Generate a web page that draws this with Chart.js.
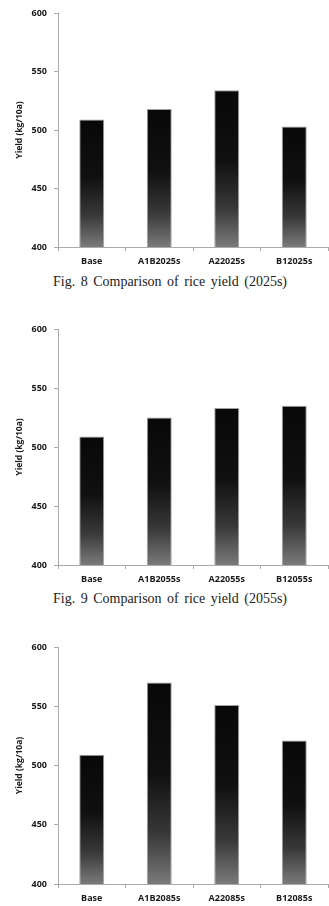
<!DOCTYPE html>
<html lang="en">
<head>
  <meta charset="UTF-8">
  <title>Rice yield comparison</title>
  <script src="https://cdn.jsdelivr.net/npm/chart.js"></script>
  <style>
    html, body { margin: 0; padding: 0; background: #fff; overflow: hidden; }
    body { width: 329px; height: 906px; position: relative; }
    canvas { position: absolute; left: 0; }
    .cap {
      position: absolute; left: 53px; width: 250px;
      font-family: "Liberation Serif", serif; font-size: 14px; color: #222;
      word-spacing: 2px; white-space: nowrap; line-height: 16px;
    }
  </style>
</head>
<body>
  <canvas id="c1"></canvas>
  <div class="cap" id="cap1"></div>
  <canvas id="c2"></canvas>
  <div class="cap" id="cap2"></div>
  <canvas id="c3"></canvas>
  <script>
    // data
    const categories2025 = ['Base', 'A1B2025s', 'A22025s', 'B12025s'];
    const yield2025 = [509, 518, 534, 503];
    const categories2055 = ['Base', 'A1B2055s', 'A22055s', 'B12055s'];
    const yield2055 = [509, 525, 533, 535];
    const categories2085 = ['Base', 'A1B2085s', 'A22085s', 'B12085s'];
    const yield2085 = [509, 570, 551, 521];
    const captions = ['Fig. 8 Comparison of rice yield (2025s)', 'Fig. 9 Comparison of rice yield (2055s)'];
    const yMin = 400, yMax = 600, yStep = 50;
    const yTitle = 'Yield (kg/10a)';

    // bar fill: dark on top, fading to grey at the bottom of each bar
    function barFill(ctx) {
      const chart = ctx.chart;
      const y = chart.scales && chart.scales.y;
      if (!chart.chartArea || !y) return '#111';
      const top = y.getPixelForValue(ctx.raw);
      const bottom = y.getPixelForValue(yMin);
      const g = chart.ctx.createLinearGradient(0, top, 0, bottom);
      g.addColorStop(0, '#080808');
      g.addColorStop(0.45, '#101010');
      g.addColorStop(0.75, '#383838');
      g.addColorStop(1, '#7a7a7a');
      return g;
    }

    function makeChart(id, top, areaH, labels, values) {
      const el = document.getElementById(id);
      const h = 13 + areaH + 24;
      el.width = 329;
      el.height = h;
      el.style.top = top + 'px';
      const tickFont = { family: 'Open Sans', size: 9, weight: 'bold' };
      new Chart(el, {
        type: 'bar',
        data: {
          labels: labels,
          datasets: [{
            data: values,
            backgroundColor: barFill,
            borderColor: '#a0a0a0',
            borderWidth: 1,
            borderSkipped: false,
            categoryPercentage: 1,
            barPercentage: 0.37
          }]
        },
        options: {
          responsive: false,
          animation: false,
          layout: { padding: { top: 13, right: 1, left: 0, bottom: 0 } },
          plugins: { legend: { display: false }, tooltip: { enabled: false } },
          scales: {
            x: {
              afterFit: s => { s.height = 24; },
              grid: { drawOnChartArea: false, tickLength: 4, color: '#aaa' },
              border: { color: '#aaa', width: 1 },
              ticks: { font: tickFont, color: '#1a1a1a', padding: 5, maxRotation: 0 }
            },
            y: {
              min: yMin, max: yMax,
              afterFit: s => { s.width = 58; },
              grid: { drawOnChartArea: false, tickLength: 4, color: '#aaa' },
              border: { color: '#aaa', width: 1 },
              ticks: { stepSize: yStep, font: tickFont, color: '#1a1a1a', padding: 7 },
              title: {
                display: true, text: yTitle, color: '#1a1a1a',
                font: { family: 'Open Sans', size: 8.5, weight: 'bold' },
                padding: { top: 14, bottom: 0 }
              }
            }
          }
        }
      });
    }

    makeChart('c1', 0, 234, categories2025, yield2025);
    makeChart('c2', 316, 236, categories2055, yield2055);
    makeChart('c3', 634, 237, categories2085, yield2085);

    const cap1 = document.getElementById('cap1');
    cap1.textContent = captions[0];
    cap1.style.top = '274px';
    const cap2 = document.getElementById('cap2');
    cap2.textContent = captions[1];
    cap2.style.top = '591px';
  </script>
</body>
</html>
